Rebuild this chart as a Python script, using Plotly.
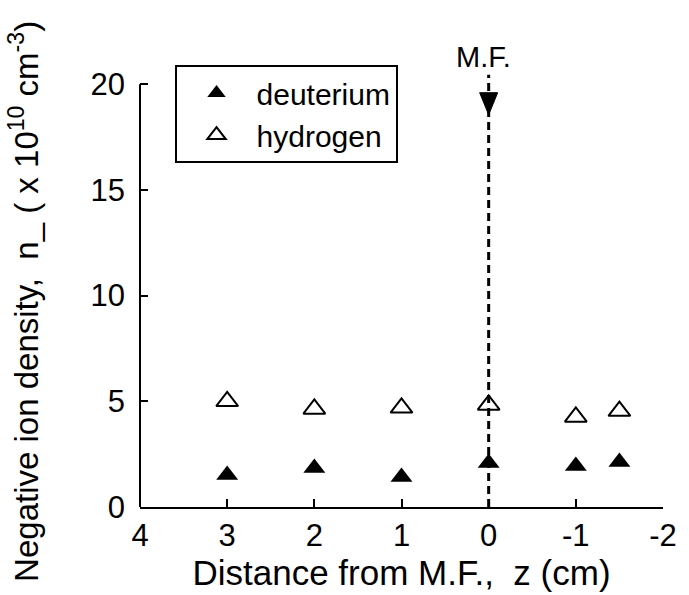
import plotly.graph_objects as go

# Data
z_pos = [3, 2, 1, 0, -1, -1.5]
deuterium = [1.51, 1.85, 1.42, 2.08, 1.94, 2.13]
hydrogen = [5.0, 4.64, 4.69, 4.83, 4.26, 4.54]
x_ticks = [4, 3, 2, 1, 0, -1, -2]
y_ticks = [0, 5, 10, 15, 20]
mf_z = 0
mf_label = "M.F."
mf_line_top = 20.45
mf_arrow_tip = 18.56
mf_text_y = 21.3

FONT = "Liberation Sans, Arial, Helvetica, sans-serif"

fig = go.Figure()
fig.add_trace(go.Scatter(
    x=z_pos, y=deuterium, mode="markers", name="deuterium",
    marker=dict(symbol="triangle-up", size=19, color="black"),
))
fig.add_trace(go.Scatter(
    x=z_pos, y=hydrogen, mode="markers", name="hydrogen",
    marker=dict(symbol="triangle-up-open", size=19, color="black",
                line=dict(width=2, color="black")),
))

# dashed M.F. line
fig.add_shape(type="line", xref="x", yref="y", x0=mf_z, x1=mf_z, y0=0, y1=mf_line_top,
              line=dict(color="black", width=3, dash="8px,5px"), layer="below")
# left axis line (0..20 only)
fig.add_shape(type="line", xref="paper", yref="y", x0=0, x1=0, y0=y_ticks[0], y1=y_ticks[-1],
              line=dict(color="black", width=2))

# arrow head (pixel-sized, anchored at the arrow tip)
fig.add_shape(type="path", xref="x", yref="y", xsizemode="pixel", ysizemode="pixel",
              xanchor=mf_z, yanchor=mf_arrow_tip,
              path="M -9 22 L 9 22 L 0 0 Z",
              fillcolor="black", line=dict(color="black", width=1))
fig.add_annotation(x=mf_z, y=mf_text_y, xref="x", yref="y", text=mf_label, showarrow=False,
                   font=dict(family=FONT, size=29, color="black"), xshift=-5)

# y-axis title
fig.add_annotation(x=-0.222, y=0.443, xref="paper", yref="paper", textangle=-90,
                   text="Negative ion density,  n_ ( x 10<sup>10</sup> cm<sup>-3</sup>)",
                   showarrow=False, xanchor="center", yanchor="middle",
                   font=dict(family=FONT, size=33, color="black"))

fig.update_layout(
    width=689, height=595,
    margin=dict(l=140, r=19, t=42, b=88),
    paper_bgcolor="white", plot_bgcolor="white",
    font=dict(family=FONT, color="black"),
    showlegend=True,
    legend=dict(x=0.066, y=0.9505, xanchor="left", yanchor="top",
                bgcolor="white", bordercolor="black", borderwidth=2,
                font=dict(family=FONT, size=30, color="black"),
                itemwidth=70, tracegroupgap=0),
    xaxis=dict(range=[4, -2], tickvals=x_ticks, ticktext=[str(v) for v in x_ticks],
               showline=True, linecolor="black", linewidth=2,
               ticks="inside", ticklen=8, tickwidth=2, tickcolor="black",
               showgrid=False, zeroline=False,
               tickfont=dict(family=FONT, size=31, color="black"),
               title=dict(text="Distance from M.F.,  z (cm)", standoff=4,
                          font=dict(family=FONT, size=35, color="black"))),
    yaxis=dict(range=[0, 22], tickvals=y_ticks, ticktext=[str(v) for v in y_ticks],
               showline=False,
               ticks="inside", ticklen=8, tickwidth=2, tickcolor="black",
               showgrid=False, zeroline=False, ticklabelstandoff=14,
               tickfont=dict(family=FONT, size=31, color="black")),
)

fig.write_html("out.html")
